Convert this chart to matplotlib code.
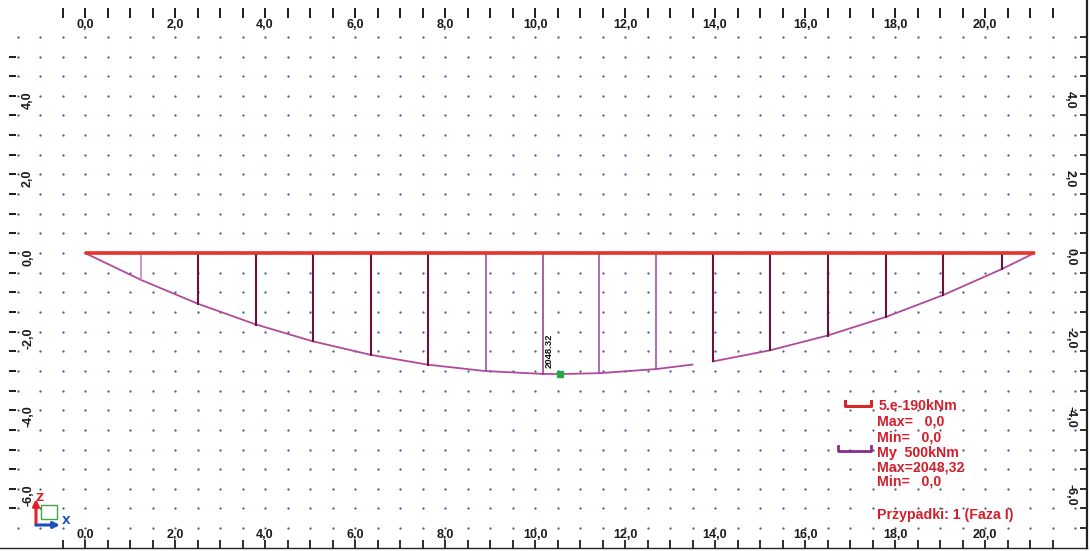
import numpy as np
import matplotlib.pyplot as plt
from matplotlib.patches import Rectangle
from matplotlib.ticker import FuncFormatter, FixedLocator

# bending moment My [kNm] along the beam
seg1_x = [0.0, 1.25, 2.51, 3.80, 5.07, 6.36, 7.62, 8.90, 10.18, 10.56, 11.42, 12.69, 13.50]
seg1_m = [0, 457, 859, 1210, 1496, 1725, 1890, 1998, 2046, 2048.32, 2034, 1964, 1888]
seg2_x = [13.96, 15.22, 16.50, 17.80, 19.07, 20.38, 21.10]
seg2_m = [1834, 1647, 1397, 1081, 712, 270, 0]

# ordinates (vertical hatch lines)
ord_x = [1.25, 2.51, 3.80, 5.07, 6.36, 7.62, 8.90, 10.18, 11.42, 12.69,
         13.96, 15.22, 16.50, 17.80, 19.07, 20.38]
ord_m = [457, 859, 1210, 1496, 1725, 1890, 1998, 2046, 2034, 1964,
         1834, 1647, 1397, 1081, 712, 270]

# the other (red) diagram is practically zero: 5.e-190 kNm
beam_x = [0.0, 21.10]
beam_m = [0.0, 0.0]

max_x = 10.56
max_m = 2048.32
max_label = "2048.32"

x_major = [0, 2, 4, 6, 8, 10, 12, 14, 16, 18, 20]
y_major = [-6, -4, -2, 0, 2, 4]

legend_lines = ["5.e-190kNm", "Max=   0,0", "Min=   0,0",
                "My  500kNm", "Max=2048,32", "Min=   0,0"]
case_text = "Przypadki: 1 (Faza I)"

# drawing scale of the diagram (kNm per drawing unit)
m_scale = 2048.32 / 3.08

W, H = 1090, 551
fig = plt.figure(figsize=(W / 100, H / 100), dpi=100)
fig.patch.set_facecolor("white")
ax = fig.add_axes([0, 3 / H, 1087 / W, 548 / H])

x0_px, y0_px, sx, sy = 85.0, 253.0, 45.0, 39.3


def px(xp, yp):
    # screen pixel -> drawing units (for decorations only)
    return (xp - x0_px) / sx, (y0_px - yp) / sy


ax.set_xlim(-x0_px / sx, (1087 - x0_px) / sx)
ax.set_ylim((y0_px - 548) / sy, y0_px / sy)

# dotted grid
gx, gy = np.meshgrid(np.arange(-1.5, 22.01, 0.5), np.arange(-7.0, 5.51, 0.5))
ax.scatter(gx.ravel(), gy.ravel(), s=2.6, color="#46568a", linewidths=0, zorder=1)

# moment diagram
curve_col = "#b04a9c"
ax.plot(seg1_x, [-m / m_scale for m in seg1_m], color=curve_col, lw=1.3, zorder=3)
ax.plot(seg2_x, [-m / m_scale for m in seg2_m], color=curve_col, lw=1.3, zorder=3)

dark = "#70103f"
light = "#c07ac0"
mid = "#a040a0"
ord_colors = [light, dark, dark, dark, dark, dark, mid, "#94338c", mid, mid,
              dark, dark, dark, dark, dark, dark]
for xo, mo, c in zip(ord_x, ord_m, ord_colors):
    ax.plot([xo, xo], [0, -mo / m_scale], color=c,
            lw=1.5 if c == dark else 1.1, zorder=3)

# red beam / zero diagram
ax.plot(beam_x, beam_m, color="#e8322c", lw=2.6, zorder=4, solid_capstyle="butt")

# max marker and value
ax.plot([max_x], [-max_m / m_scale], marker="s", ms=4, color="#22a847",
        mec="#22a847", zorder=5)
ax.text(max_x - 0.24, -max_m / m_scale + 0.16, max_label, rotation=90,
        ha="center", va="bottom", fontsize=6.8, family="Liberation Sans",
        fontweight="bold", color="#111111", zorder=6)

# legend (red text, lower right)
red = "#d21f2b"
ax.plot(*zip(px(845, 401), px(845, 405.5), px(871, 405.5), px(871, 401)),
        color="#d62828", lw=2.2, zorder=5)
ax.plot(*zip(px(838, 446), px(838, 451), px(871, 451), px(871, 446)),
        color="#8a2a8a", lw=2.0, zorder=5)
leg_y = [406, 422, 438, 453, 468, 482]
leg_x = [879, 877, 877, 877, 877, 877]
for t, xp, yp in zip(legend_lines, leg_x, leg_y):
    ax.text(*px(xp, yp), t, color=red, fontsize=10.2, family="Liberation Sans",
            fontweight="bold", ha="left", va="center", zorder=6)
ax.text(*px(877, 515), case_text, color=red, fontsize=10.2,
        family="Liberation Sans", fontweight="bold", ha="left", va="center",
        zorder=6)

# axis triad in the corner
o = px(36, 525)
ax.add_patch(Rectangle(px(41, 519), 16 / sx, 14 / sy, fill=False,
                       ec="#3aa845", lw=1.0, zorder=5))
ax.annotate("", xy=px(36, 499), xytext=o,
            arrowprops=dict(arrowstyle="-|>", color="#e0202a", lw=2.2,
                            mutation_scale=9, shrinkA=0, shrinkB=0), zorder=6)
ax.annotate("", xy=px(60, 525), xytext=o,
            arrowprops=dict(arrowstyle="-|>", color="#1d4fc0", lw=2.2,
                            mutation_scale=9, shrinkA=0, shrinkB=0), zorder=6)
ax.text(*px(40, 498), "Z", color="#e0202a", fontsize=8, fontweight="bold",
        ha="center", va="center")
ax.text(*px(66, 521), "X", color="#1d4fc0", fontsize=8, fontweight="bold",
        ha="center", va="center")

# ticks and labels, drawn inside the frame like in the screenshot
fmt = FuncFormatter(lambda v, p: ("%.1f" % v).replace("-0.0", "0.0").replace(".", ","))
tick_col = "#1c1c1c"
lab_kw = dict(labelsize=9, labelcolor="#1a1a1a", colors=tick_col,
              labelfontfamily="Liberation Sans")
for s in ax.spines.values():
    s.set_visible(False)
ax.spines["bottom"].set_visible(True)
ax.spines["bottom"].set_color("#222222")
ax.spines["bottom"].set_linewidth(1.0)
ax.spines["right"].set_visible(True)
ax.spines["right"].set_color("#222222")
ax.spines["right"].set_linewidth(1.6)

x_minor = FixedLocator(np.arange(-0.5, 21.51, 0.5))

# bottom
ax.set_xticks(x_major)
ax.xaxis.set_minor_locator(x_minor)
ax.xaxis.set_major_formatter(fmt)
ax.tick_params(axis="x", which="both", direction="in", length=5.8, width=1.3,
               pad=-13.5, **lab_kw)

# right
ax.yaxis.tick_right()
ax.set_yticks(y_major)
ax.yaxis.set_minor_locator(FixedLocator(np.arange(-7.0, 5.51, 0.5)))
ax.yaxis.set_major_formatter(fmt)
ax.tick_params(axis="y", which="both", direction="in", length=5, width=1.3,
               pad=-16.5, labelrotation=270, **lab_kw)

# top
secx = ax.secondary_xaxis(1 - 8 / 548)
secx.set_xticks(x_major)
secx.xaxis.set_minor_locator(x_minor)
secx.xaxis.set_major_formatter(fmt)
secx.tick_params(which="both", direction="in", length=7.2, width=1.4,
                 pad=-16.5, **lab_kw)
for s in secx.spines.values():
    s.set_visible(False)

# left
secy = ax.secondary_yaxis(9 / 1087)
secy.set_yticks(y_major)
secy.yaxis.set_minor_locator(FixedLocator(np.arange(-6.5, 5.01, 0.5)))
secy.yaxis.set_major_formatter(fmt)
secy.tick_params(which="both", direction="in", length=5, width=1.4,
                 pad=-18, labelrotation=90, **lab_kw)
for s in secy.spines.values():
    s.set_visible(False)

for t in (ax.get_xticklabels() + ax.get_yticklabels()
          + secx.get_xticklabels() + secy.get_yticklabels()):
    t.set_fontweight("bold")

fig.savefig("out.png", dpi=100, facecolor="white")
plt.close(fig)
